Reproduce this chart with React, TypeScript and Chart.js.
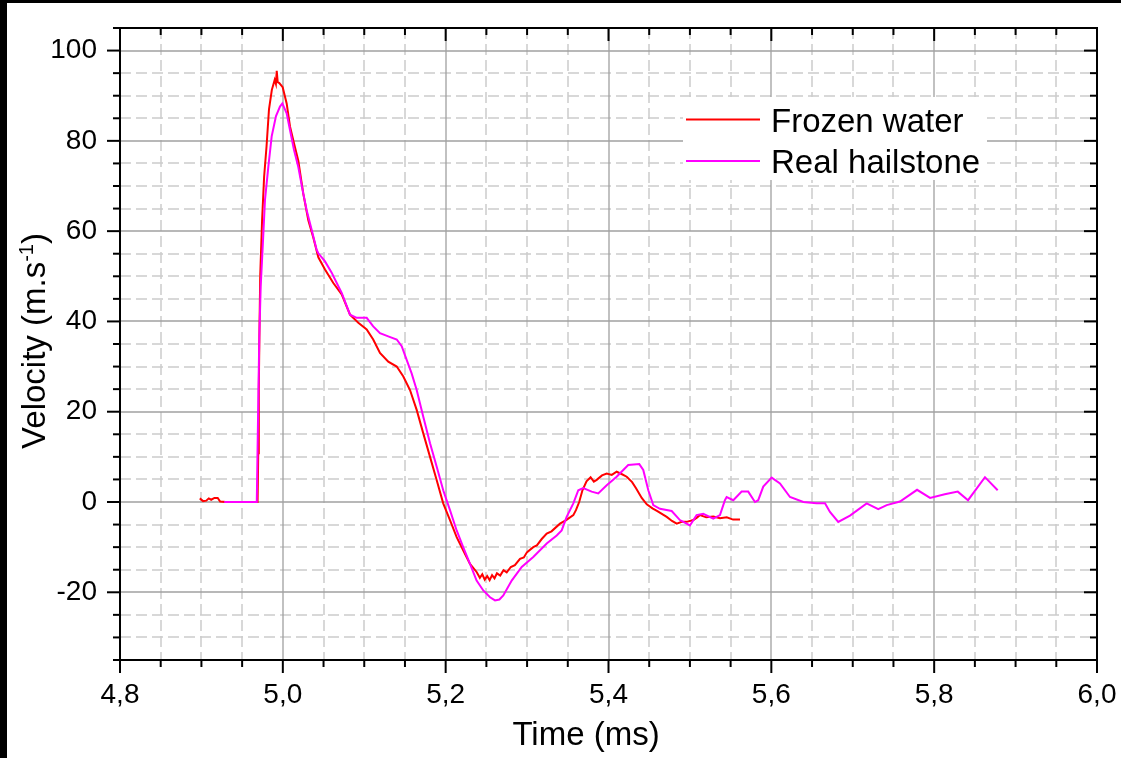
import React, { useEffect, useRef } from "react";
import { Chart, registerables } from "chart.js";

Chart.register(...registerables);

const seriesLabels = ["Frozen water", "Real hailstone"];
const seriesColors = ["#ff0000", "#ff00ff"];

const frozenTime = [
  4.898, 4.902, 4.906, 4.909, 4.912, 4.916, 4.92, 4.923, 4.93, 4.969,
  4.9698, 4.9705, 4.9712, 4.9722, 4.9745, 4.977, 4.98, 4.983, 4.9865, 4.99,
  4.9915, 4.9925, 4.9937, 4.9957, 4.9998, 5.0047, 5.0088, 5.0137, 5.019, 5.0251,
  5.0313, 5.0374, 5.0436, 5.0518, 5.062, 5.0723, 5.0825, 5.0927, 5.103, 5.111,
  5.1193, 5.1295, 5.1399, 5.148, 5.1562, 5.1644, 5.1725, 5.1808, 5.189, 5.197,
  5.2053, 5.2135, 5.2215, 5.2299, 5.238, 5.242, 5.245, 5.248, 5.251, 5.254,
  5.257, 5.26, 5.263, 5.267, 5.271, 5.275, 5.28, 5.285, 5.2913, 5.296,
  5.3, 5.3076, 5.312, 5.318, 5.3241, 5.33, 5.3404, 5.348, 5.3568, 5.36,
  5.364, 5.368, 5.373, 5.378, 5.382, 5.3855, 5.392, 5.3978, 5.404, 5.41,
  5.416, 5.4224, 5.429, 5.434, 5.4408, 5.447, 5.454, 5.46, 5.4715, 5.478,
  5.4838, 5.49, 5.496, 5.5042, 5.509, 5.5124, 5.52, 5.5287, 5.537, 5.5452,
  5.553, 5.5615,
];
const frozenVelocity = [
  0.8, 0.2, 0.3, 0.8, 0.5, 0.9, 0.9, 0.1, 0, 0,
  10.8, 25.0, 36.5, 50.0, 62.3, 72.0, 78.8, 87.0, 91.3, 93.5,
  92.6, 95.5, 93.0, 92.8, 91.9, 88.3, 83.2, 79.5, 75.6, 68.3,
  62.4, 58.6, 54.2, 51.5, 48.5, 46.0, 41.5, 39.7, 38.2, 36.0,
  33.0, 31.1, 30.0, 27.8, 24.8, 20.4, 15.2, 10.0, 4.8, -0.3,
  -4.0, -7.8, -10.7, -13.7, -15.5, -16.8, -16.0, -17.2, -16.4, -17.3,
  -16.2, -16.9, -15.8, -16.3, -15.1, -15.6, -14.4, -14.0, -12.6, -12.3,
  -11.1, -10.0, -9.6, -8.2, -7.0, -6.5, -4.8, -4.0, -2.9, -1.8,
  0.0, 2.6, 4.6, 5.5, 4.5, 4.9, 5.9, 6.3, 6.0, 6.7,
  6.2, 5.6, 4.4, 3.0, 0.9, -0.5, -1.4, -2.0, -3.3, -4.2,
  -4.8, -4.4, -4.4, -4.0, -3.4, -2.9, -3.4, -3.2, -3.6, -3.4,
  -3.9, -3.9,
];

const hailTime = [
  4.928, 4.968, 4.97, 4.9711, 4.9728, 4.9753, 4.9781, 4.9822, 4.9863, 4.9916,
  4.9965, 4.9994, 5.0047, 5.0088, 5.0137, 5.019, 5.0243, 5.0293, 5.0354, 5.0415,
  5.0436, 5.0518, 5.06, 5.0662, 5.0723, 5.0825, 5.0907, 5.103, 5.111, 5.1193,
  5.1295, 5.1399, 5.146, 5.1521, 5.1582, 5.1644, 5.1725, 5.1808, 5.189, 5.197,
  5.2053, 5.2135, 5.2215, 5.2299, 5.238, 5.2462, 5.2545, 5.2606, 5.266, 5.2708,
  5.2811, 5.2934, 5.3076, 5.3241, 5.3364, 5.3425, 5.3486, 5.3568, 5.3629, 5.369,
  5.3793, 5.3874, 5.3978, 5.41, 5.4242, 5.4378, 5.4427, 5.4489, 5.455, 5.4632,
  5.4776, 5.4877, 5.5, 5.5082, 5.5164, 5.5287, 5.5369, 5.543, 5.5451, 5.5533,
  5.5635, 5.5716, 5.5799, 5.5839, 5.5901, 5.6004, 5.6106, 5.6229, 5.6393, 5.6556,
  5.6659, 5.672, 5.6822, 5.6966, 5.7171, 5.7313, 5.7417, 5.758, 5.779, 5.795,
  5.813, 5.829, 5.8416, 5.8624, 5.878,
];
const hailVelocity = [
  0, 0, 24.0, 36.6, 47.7, 56.6, 67.0, 74.3, 81.0, 85.5,
  87.6, 88.3, 86.1, 82.4, 78.0, 74.2, 69.1, 64.6, 60.3, 55.9,
  55.1, 53.3, 50.8, 48.5, 46.3, 41.5, 40.8, 40.8, 38.9, 37.4,
  36.7, 36.0, 34.5, 31.5, 28.5, 24.8, 18.9, 13.0, 7.8, 2.6,
  -1.8, -6.3, -10.0, -13.7, -17.4, -19.6, -21.1, -21.8, -21.6, -20.7,
  -17.4, -14.4, -12.2, -9.2, -7.4, -6.3, -3.3, -0.3, 2.6, 3.1,
  2.3, 1.9, 3.7, 5.6, 8.2, 8.4, 7.1, 2.6, -0.7, -1.5,
  -2.0, -4.0, -5.2, -2.9, -2.6, -3.7, -2.9, 0.4, 1.1, 0.4,
  2.3, 2.3, 0.0, 0.4, 3.4, 5.4, 4.1, 1.1, 0.0, -0.3,
  -0.3, -2.2, -4.4, -3.0, -0.3, -1.6, -0.7, 0.1, 2.7, 0.9,
  1.7, 2.3, 0.4, 5.5, 2.6,
];

const xMajorTicks = [4.8, 5.0, 5.2, 5.4, 5.6, 5.8, 6.0];
const yMajorTicks = [-20, 0, 20, 40, 60, 80, 100];
const xRange = [4.8, 6.0];
const yRange = [-35, 105];
const xMinorStep = 0.05;
const yMinorStep = 5;
const xTitle = "Time (ms)";
const yTitleMain = "Velocity (m.s";
const yTitleSup = "-1";
const yTitleEnd = ")";

const FONT = '"Liberation Sans", Arial, sans-serif';

function line(ctx: CanvasRenderingContext2D, x1: number, y1: number, x2: number, y2: number) {
  ctx.beginPath();
  ctx.moveTo(x1, y1);
  ctx.lineTo(x2, y2);
  ctx.stroke();
}

function minorValues(min: number, max: number, step: number) {
  const out: number[] = [];
  const n = Math.round((max - min) / step);
  for (let k = 0; k <= n; k++) out.push(+(min + k * step).toFixed(4));
  return out;
}

const isMajor = (v: number, majors: number[]) => majors.some((m) => Math.abs(m - v) < 1e-6);

const decorPlugin = {
  id: "decor",
  beforeDraw(chart: any) {
    const ctx: CanvasRenderingContext2D = chart.ctx;
    ctx.save();
    ctx.fillStyle = "#ffffff";
    ctx.fillRect(0, 0, chart.width, chart.height);
    ctx.fillStyle = "#000000";
    ctx.fillRect(0, 0, chart.width, 3);
    ctx.fillRect(0, 0, 7, chart.height);
    ctx.restore();
  },
  beforeDatasetsDraw(chart: any) {
    const ctx: CanvasRenderingContext2D = chart.ctx;
    const a = chart.chartArea;
    const x = chart.scales.x;
    const y = chart.scales.y;
    ctx.save();
    ctx.strokeStyle = "#cccccc";
    ctx.lineWidth = 1.5;
    ctx.setLineDash([11, 5]);
    const xAll = minorValues(xRange[0], xRange[1], xMinorStep);
    const yAll = minorValues(yRange[0], yRange[1], yMinorStep);
    xAll.forEach((v) => {
      if (isMajor(v, xMajorTicks)) return;
      const px = Math.round(x.getPixelForValue(v));
      if (px <= a.left + 1 || px >= a.right - 1) return;
      line(ctx, px, a.top, px, a.bottom);
    });
    yAll.forEach((v) => {
      if (isMajor(v, yMajorTicks)) return;
      const py = Math.round(y.getPixelForValue(v));
      if (py <= a.top + 1 || py >= a.bottom - 1) return;
      line(ctx, a.left, py, a.right, py);
    });
    ctx.setLineDash([]);
    ctx.strokeStyle = "#a0a0a0";
    ctx.lineWidth = 1.3;
    xMajorTicks.forEach((v) => {
      const px = Math.round(x.getPixelForValue(v));
      if (px <= a.left + 1 || px >= a.right - 1) return;
      line(ctx, px, a.top, px, a.bottom);
    });
    yMajorTicks.forEach((v) => {
      const py = Math.round(y.getPixelForValue(v));
      if (py <= a.top + 1 || py >= a.bottom - 1) return;
      line(ctx, a.left, py, a.right, py);
    });
    // legend
    ctx.fillStyle = "#ffffff";
    ctx.fillRect(683, 97, 304, 83);
    ctx.lineWidth = 2;
    ctx.font = `33px ${FONT}`;
    ctx.textBaseline = "alphabetic";
    ctx.textAlign = "left";
    const rows = [119.5, 161];
    seriesLabels.forEach((lab, i) => {
      ctx.strokeStyle = seriesColors[i];
      line(ctx, 686, rows[i], 760, rows[i]);
      ctx.fillStyle = "#000000";
      ctx.fillText(lab, 771, rows[i] + 12);
    });
    ctx.restore();
  },
  afterDatasetsDraw(chart: any) {
    const ctx: CanvasRenderingContext2D = chart.ctx;
    const a = chart.chartArea;
    const x = chart.scales.x;
    const y = chart.scales.y;
    ctx.save();
    ctx.strokeStyle = "#000000";
    ctx.lineWidth = 2;
    ctx.strokeRect(a.left, a.top, a.right - a.left, a.bottom - a.top);
    const xAll = minorValues(xRange[0], xRange[1], xMinorStep);
    const yAll = minorValues(yRange[0], yRange[1], yMinorStep);
    xAll.forEach((v) => {
      const len = isMajor(v, xMajorTicks) ? 13 : 7;
      const px = x.getPixelForValue(v);
      line(ctx, px, a.bottom, px, a.bottom + len);
      line(ctx, px, a.top, px, a.top + len);
    });
    yAll.forEach((v) => {
      const len = isMajor(v, yMajorTicks) ? 13 : 7;
      const py = y.getPixelForValue(v);
      line(ctx, a.left - len, py, a.left, py);
      line(ctx, a.right - len, py, a.right, py);
    });
    ctx.fillStyle = "#000000";
    ctx.font = `33px ${FONT}`;
    ctx.textAlign = "center";
    ctx.textBaseline = "alphabetic";
    ctx.fillText(xTitle, 586, 745);
    ctx.translate(45, 341);
    ctx.rotate(-Math.PI / 2);
    ctx.textAlign = "left";
    const mainF = `33px ${FONT}`;
    const supF = `20px ${FONT}`;
    ctx.font = mainF;
    const w1 = ctx.measureText(yTitleMain).width;
    const w3 = ctx.measureText(yTitleEnd).width;
    ctx.font = supF;
    const w2 = ctx.measureText(yTitleSup).width;
    let cx = -(w1 + w2 + w3) / 2;
    ctx.font = mainF;
    ctx.fillText(yTitleMain, cx, 0);
    cx += w1;
    ctx.font = supF;
    ctx.fillText(yTitleSup, cx, -12);
    cx += w2;
    ctx.font = mainF;
    ctx.fillText(yTitleEnd, cx, 0);
    ctx.restore();
  },
};

export default function App() {
  const ref = useRef<HTMLCanvasElement | null>(null);
  useEffect(() => {
    if (!ref.current) return;
    const chart = new Chart(ref.current, {
      type: "line",
      data: {
        datasets: [
          {
            label: seriesLabels[0],
            data: frozenTime.map((t, i) => ({ x: t, y: frozenVelocity[i] })),
            borderColor: seriesColors[0],
            borderWidth: 2,
            pointRadius: 0,
            tension: 0,
            fill: false,
            order: 1,
          },
          {
            label: seriesLabels[1],
            data: hailTime.map((t, i) => ({ x: t, y: hailVelocity[i] })),
            borderColor: seriesColors[1],
            borderWidth: 2,
            pointRadius: 0,
            tension: 0,
            fill: false,
            order: 0,
          },
        ],
      },
      options: {
        animation: false,
        responsive: false,
        devicePixelRatio: 1,
        layout: { padding: { left: 0, top: 28, right: 24, bottom: 0 } },
        plugins: { legend: { display: false }, tooltip: { enabled: false } },
        scales: {
          x: {
            type: "linear",
            min: xRange[0],
            max: xRange[1],
            afterBuildTicks: (s: any) => {
              s.ticks = xMajorTicks.map((v) => ({ value: v }));
            },
            afterFit: (s: any) => {
              s.height = 98;
              s.paddingLeft = 0;
              s.paddingRight = 0;
              s.paddingTop = 0;
              s.paddingBottom = 0;
            },
            grid: { display: false, drawTicks: false },
            border: { display: false },
            ticks: {
              autoSkip: false,
              maxRotation: 0,
              padding: 18,
              color: "#000000",
              font: { family: FONT, size: 28 },
              callback: (v: any) => Number(v).toFixed(1).replace(".", ","),
            },
          },
          y: {
            type: "linear",
            min: yRange[0],
            max: yRange[1],
            afterBuildTicks: (s: any) => {
              s.ticks = yMajorTicks.map((v) => ({ value: v }));
            },
            afterFit: (s: any) => {
              s.width = 120;
              s.paddingLeft = 0;
              s.paddingRight = 0;
              s.paddingTop = 0;
              s.paddingBottom = 0;
            },
            grid: { display: false, drawTicks: false },
            border: { display: false },
            ticks: {
              padding: 23,
              color: "#000000",
              font: { family: FONT, size: 28 },
              callback: (v: any) => String(v),
            },
          },
        },
      },
      plugins: [decorPlugin],
    });
    return () => chart.destroy();
  }, []);
  return (
    <div style={{ position: "fixed", left: 0, top: 0, width: 1121, height: 758, background: "#fff" }}>
      <canvas ref={ref} width={1121} height={758} style={{ display: "block" }} />
    </div>
  );
}
